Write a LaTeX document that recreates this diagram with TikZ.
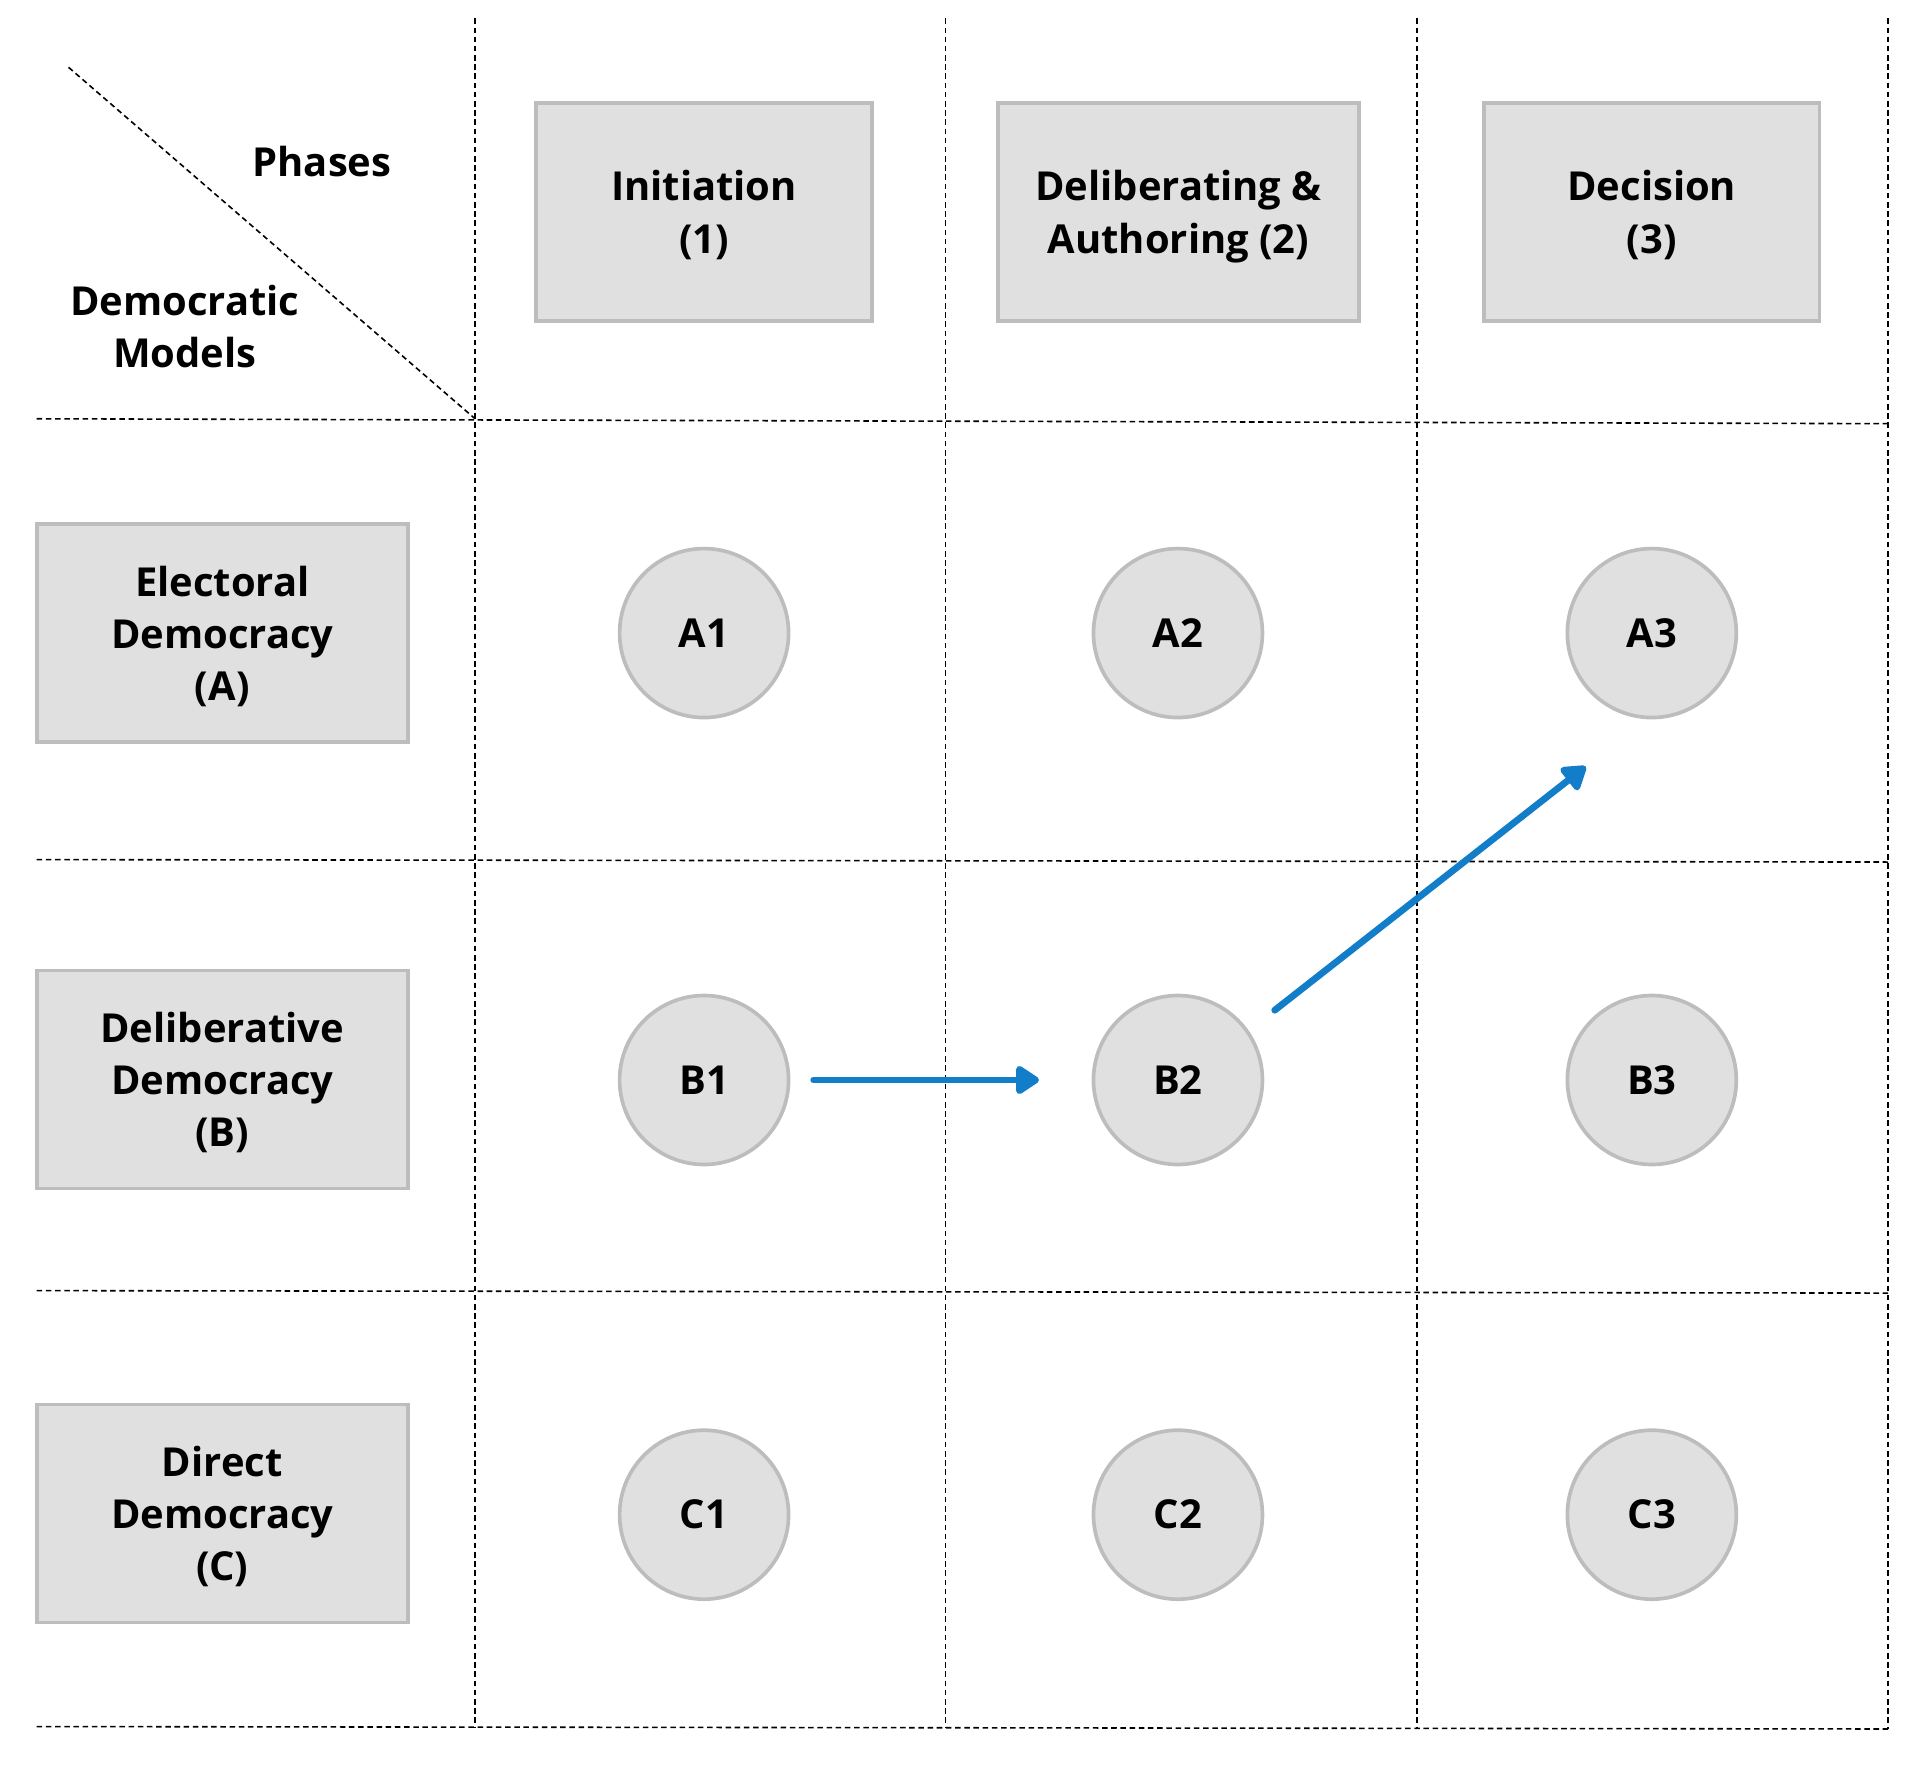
\documentclass[tikz,border=0pt]{standalone}
\usepackage{fontspec}
\setmainfont{Open Sans}
\usetikzlibrary{arrows.meta,calc}
\definecolor{boxfill}{HTML}{E0E0E0}
\definecolor{boxline}{HTML}{BDBDBD}
\definecolor{flowblue}{HTML}{127DC8}
\begin{document}
\begin{tikzpicture}[x=1pt,y=-1pt,
  grid/.style={black,line width=1.3pt,dash pattern=on 4.5pt off 3pt},
  lbl/.style={font=\fontsize{32.6}{42.5}\selectfont\bfseries,align=center,inner sep=0pt},
  hdrbox/.style={lbl,draw=boxline,fill=boxfill,line width=3pt,minimum height=178pt,text depth=0pt},
  cell/.style={lbl,circle,draw=boxline,fill=boxfill,line width=3pt,minimum size=138pt},
  flow/.style={draw=flowblue,line width=5.5pt,line cap=round,-{Triangle[length=21pt,width=26pt,round]}}
]
\useasboundingbox (0,0) rectangle (1568,1442);
% grid
\coordinate (d1) at (56,55);
\coordinate (d2) at (388,342);
\draw[grid] (d1) -- (d2);
\draw[grid] (388,15) -- (388,1411);
\draw[grid] (772,15) -- (772,1411);
\draw[grid] (1157,15) -- (1157,1412);
\draw[grid] (1542,15) -- (1542,1412);
\draw[grid] (30,342) -- (1542,346);
\draw[grid] (30,702) -- (1542,704);
\draw[grid] (30,1054) -- (1542,1056);
\draw[grid] (30,1410) -- (1542,1412);
% corner labels
\node[lbl] (phases) at (263,132) {Phases};
\node[lbl] (models) at (151,267) {Democratic\\Models};
% phase headers
\node[hdrbox,minimum width=274pt] (h1) at (575,173) {Initiation\\(1)};
\node[hdrbox,minimum width=295pt] (h2) at (962.5,173) {Deliberating \&\\Authoring (2)};
\node[hdrbox,minimum width=274pt] (h3) at (1349,173) {Decision\\(3)};
% model rows
\node[hdrbox,minimum width=303pt] (rA) at (181.5,517) {Electoral\\Democracy\\(A)};
\node[hdrbox,minimum width=303pt] (rB) at (181.5,881.5) {Deliberative\\Democracy\\(B)};
\node[hdrbox,minimum width=303pt] (rC) at (181.5,1236) {Direct\\Democracy\\(C)};
% cells
\node[cell] (A1) at (575,517) {A1};
\node[cell] (A2) at (962,517) {A2};
\node[cell] (A3) at (1349,517) {A3};
\node[cell] (B1) at (575,882) {B1};
\node[cell] (B2) at (962,882) {B2};
\node[cell] (B3) at (1349,882) {B3};
\node[cell] (C1) at (575,1237) {C1};
\node[cell] (C2) at (962,1237) {C2};
\node[cell] (C3) at (1349,1237) {C3};
% arrows
\draw[flow,shorten <=19pt,shorten >=43pt] (B1) -- (B2);
\coordinate (s2) at ($(B2)+(79,-57)$);
\coordinate (e2) at ($(A3)+(-54,109)$);
\draw[flow] (s2) -- (e2);
\end{tikzpicture}
\end{document}
